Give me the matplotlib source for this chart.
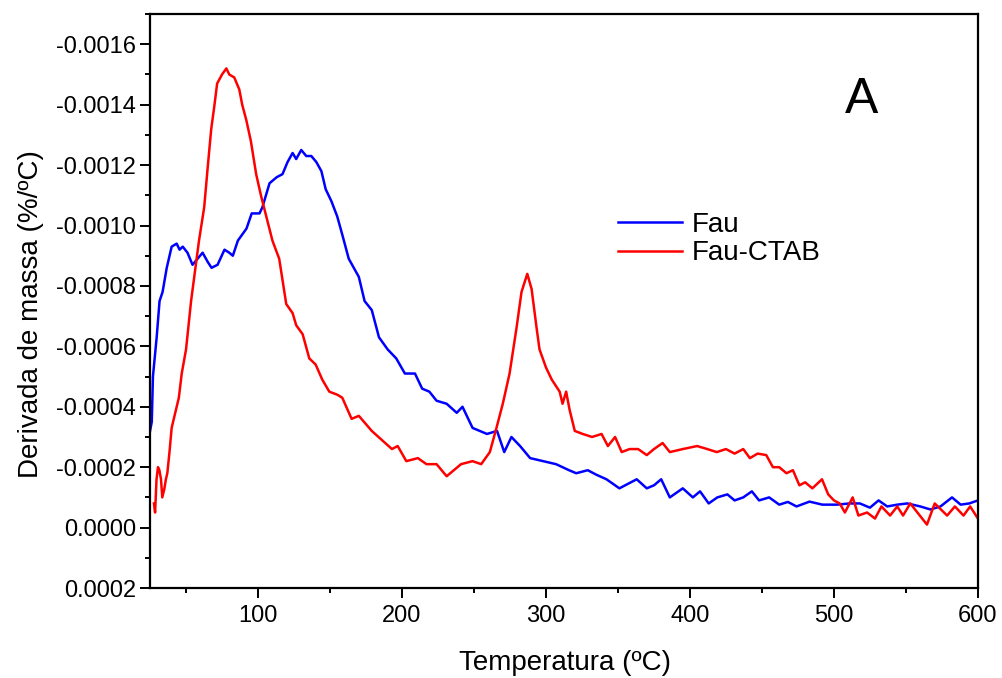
import numpy as np
import matplotlib
matplotlib.use('Agg')
import matplotlib.pyplot as plt
from matplotlib.ticker import MultipleLocator, FuncFormatter

plt.rcParams['font.family'] = ['Liberation Sans', 'DejaVu Sans']
plt.rcParams['axes.unicode_minus'] = False

# Fau (blue) - temperature in C, derivative in units of 1e-4 %/C
fau_temp = [25, 26.2, 27, 29.6, 31.6, 33.7, 36.6, 40, 43.5, 45.5, 47.7, 51, 54.5, 58,
            61.5, 65, 67.7, 71.9, 76.7, 80, 82.5, 86, 92, 95.6, 101, 103, 108, 113,
            117, 120.5, 124, 126.5, 130, 133.5, 137, 140.5, 144, 147, 151, 155, 158.5,
            163, 170, 174, 179, 184, 190, 196, 202, 209, 214, 219, 224, 231, 238, 242,
            249, 259, 266, 271, 276, 282, 289, 298, 307, 316, 321, 329, 335, 342, 351,
            357, 363, 370, 375, 380, 386, 395, 402, 407, 413, 419, 426, 431, 437, 443,
            448, 455, 462, 468, 474, 483, 492, 502, 511, 518, 525, 531, 537, 544, 551,
            560, 567, 574, 582, 588, 594, 600]
fau_dtg = [-3.2, -3.5, -5.0, -6.3, -7.5, -7.8, -8.6, -9.3, -9.4, -9.2, -9.3, -9.1, -8.7, -8.9,
           -9.1, -8.8, -8.6, -8.7, -9.2, -9.1, -9.0, -9.5, -9.9, -10.4, -10.4, -10.6, -11.4, -11.6,
           -11.7, -12.1, -12.4, -12.2, -12.5, -12.3, -12.3, -12.1, -11.8, -11.2, -10.8, -10.3, -9.7,
           -8.9, -8.3, -7.5, -7.2, -6.3, -5.9, -5.6, -5.1, -5.1, -4.6, -4.5, -4.2, -4.1, -3.8, -4.0,
           -3.3, -3.1, -3.2, -2.5, -3.0, -2.7, -2.3, -2.2, -2.1, -1.9, -1.8, -1.9, -1.75, -1.6, -1.3,
           -1.45, -1.6, -1.3, -1.4, -1.6, -1.0, -1.3, -1.0, -1.2, -0.8, -1.0, -1.1, -0.9, -1.0, -1.2,
           -0.9, -1.0, -0.76, -0.85, -0.7, -0.86, -0.76, -0.76, -0.8, -0.8, -0.66, -0.9, -0.7, -0.76, -0.8,
           -0.7, -0.6, -0.7, -1.0, -0.76, -0.8, -0.9]

# Fau-CTAB (red)
ctab_temp = [27.7, 28.5, 29.5, 30.5, 31.5, 32.6, 33.5, 35, 36, 37, 38.5, 40, 42.5, 45, 47, 50,
             53.5, 56, 59, 62.6, 65, 67.5, 69.5, 71.6, 75, 78, 80, 83.5, 87, 89, 91.8, 95,
             98.7, 102, 105.7, 110, 114.7, 117, 119.6, 124, 126.5, 131, 135.6, 140, 144.6,
             149.5, 155, 158.5, 165, 170, 179, 186, 193, 197, 203, 211, 217, 224, 231, 236,
             241, 249, 255, 261, 265.6, 270, 274.7, 279.5, 283, 287, 290, 293.5, 295.5, 300,
             304, 309.5, 311.5, 314, 316.4, 320, 325.5, 332, 338.6, 343, 348, 352.6, 358, 364,
             370, 375, 381, 386, 395, 405, 412, 418.6, 425, 431, 437, 441.6, 447, 453, 457.6,
             462, 467, 471.5, 476, 480, 485, 491.7, 496, 500, 504, 507.6, 513, 517, 523, 528.5,
             533, 539, 544, 548, 553, 558, 564.6, 570, 578.6, 584, 590, 594.6, 600]
ctab_dtg = [-0.8, -0.5, -1.6, -2.0, -1.9, -1.6, -1.0, -1.3, -1.6, -1.8, -2.5, -3.3, -3.8, -4.3, -5.1, -5.9,
            -7.5, -8.4, -9.5, -10.6, -11.9, -13.2, -13.9, -14.7, -15.0, -15.2, -15.0, -14.9, -14.5, -14.0, -13.5, -12.8,
            -11.7, -11.0, -10.3, -9.5, -8.9, -8.2, -7.4, -7.1, -6.7, -6.4, -5.6, -5.4, -4.9,
            -4.5, -4.4, -4.3, -3.6, -3.7, -3.2, -2.9, -2.6, -2.7, -2.2, -2.3, -2.1, -2.1, -1.7, -1.9,
            -2.1, -2.2, -2.1, -2.5, -3.3, -4.1, -5.1, -6.6, -7.8, -8.4, -7.9, -6.6, -5.9, -5.3,
            -4.9, -4.5, -4.1, -4.5, -3.9, -3.2, -3.1, -3.0, -3.1, -2.7, -3.0, -2.5, -2.6, -2.6,
            -2.4, -2.6, -2.8, -2.5, -2.6, -2.7, -2.6, -2.5, -2.6, -2.45, -2.6, -2.3, -2.45, -2.4, -2.0,
            -2.0, -1.8, -1.9, -1.4, -1.5, -1.3, -1.6, -1.1, -0.9, -0.8, -0.5, -1.0, -0.4, -0.5, -0.3,
            -0.7, -0.4, -0.7, -0.4, -0.8, -0.5, -0.1, -0.8, -0.4, -0.7, -0.4, -0.7, -0.3]

fig = plt.figure(figsize=(10.03, 6.78), dpi=100)
ax = fig.add_axes([0.1496, 0.1327, 0.8254, 0.8466])

ax.plot(fau_temp, np.array(fau_dtg) * 1e-4, color='#0000ff', lw=1.8, label='Fau')
ax.plot(ctab_temp, np.array(ctab_dtg) * 1e-4, color='#ff0000', lw=1.8, label='Fau-CTAB')

ax.set_xlim(25, 600)
ax.set_ylim(0.0002, -0.0017)

ax.xaxis.set_major_locator(MultipleLocator(100))
ax.xaxis.set_minor_locator(MultipleLocator(50))
ax.yaxis.set_major_locator(MultipleLocator(0.0002))
ax.yaxis.set_minor_locator(MultipleLocator(0.0001))

def fmt(v, pos):
    s = "%.4f" % v
    if s == "-0.0000":
        s = "0.0000"
    return s

ax.yaxis.set_major_formatter(FuncFormatter(fmt))

for sp in ax.spines.values():
    sp.set_linewidth(1.6)
ax.tick_params(which='major', direction='out', length=7, width=1.4, labelsize=17, pad=3)
ax.tick_params(which='minor', direction='out', length=3.5, width=1.4)
ax.tick_params(axis='x', which='major', pad=5)

ax.set_xlabel('Temperatura (ºC)', fontsize=20)
ax.set_ylabel('Derivada de massa (%/ºC)', fontsize=20)
ax.xaxis.set_label_coords(0.501, -0.108)
ax.yaxis.set_label_coords(-0.128, 0.477)

ax.legend(loc='center left', bbox_to_anchor=(0.565, 0.608), frameon=False, fontsize=20,
          borderpad=0, borderaxespad=0, handlelength=2.3, handletextpad=0.35, labelspacing=0.1)

ax.text(0.859, 0.85, 'A', transform=ax.transAxes, fontsize=36, ha='center', va='center')

fig.savefig('out.png', dpi=100)
